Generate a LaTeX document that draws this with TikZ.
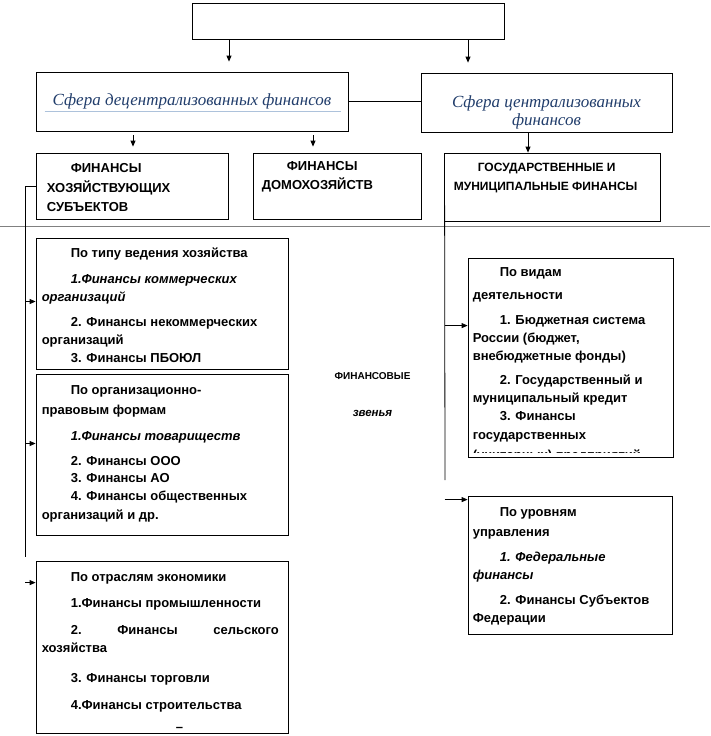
\documentclass[tikz,border=0pt]{standalone}
\usepackage{fontspec}
\setmainfont{Liberation Sans}
\newfontfamily\spherefont{Liberation Serif}
\usepackage{tikz}
\usetikzlibrary{arrows.meta}
\definecolor{sphblue}{rgb}{0.13,0.24,0.42}
\definecolor{sphline}{rgb}{0.68,0.76,0.86}
\definecolor{sepgray}{rgb}{0.50,0.50,0.50}

\begin{document}
\begin{tikzpicture}[x=1pt, y=-1pt,
  panel/.style={draw, line width=0.8pt, inner sep=0pt},
  txt/.style={
    anchor=north west, inner sep=0pt, align=left,
    font=\fontsize{13}{18}\selectfont\bfseries
  },
  caps/.style={
    anchor=north west, inner sep=0pt, align=left,
    font=\fontsize{13}{18}\selectfont\bfseries
  },
  sph/.style={
    align=center, text=sphblue,
    font=\spherefont\itshape\fontsize{17}{18}\selectfont
  },
  arr/.style={-{Triangle[length=6pt, width=5pt]}, line width=0.8pt},
  link/.style={line width=0.8pt},
]
\useasboundingbox (0,0) rectangle (710,736);

%% ---- Top level ----
\node[panel, minimum width=312, minimum height=36] (top) at (348,21) {};

%% ---- Spheres ----
\node[panel, sph, minimum width=312, minimum height=59] (decentr) at (192,101.5)
  {Сфера децентрализованных финансов};
\draw[sphline, line width=0.6pt] ([xshift=9pt, yshift=-9.5pt]decentr.west)
  -- ([xshift=-7pt, yshift=-9.5pt]decentr.east);
\node[panel, minimum width=251, minimum height=59] (centr) at (546.5,102.5) {};
\node[sph] (centrtxt) at ([yshift=-10pt]centr.center)
  {Сфера централизованных\\финансов};

%% ---- Finance groups ----
\node[panel, minimum width=192, minimum height=66] (hoz) at (132,186) {};
\node[caps] (hoztxt) at ([xshift=11pt, yshift=-7pt]hoz.north west)
  {\strut\hspace*{24pt}ФИНАНСЫ\\[2pt]ХОЗЯЙСТВУЮЩИХ\\[1pt]СУБЪЕКТОВ};
\node[panel, minimum width=168, minimum height=66] (dom) at (337,186) {};
\node[caps] (domtxt) at ([xshift=9pt, yshift=-5pt]dom.north west)
  {\strut\hspace*{25pt}ФИНАНСЫ\\[1pt]ДОМОХОЗЯЙСТВ};
\node[panel, minimum width=216, minimum height=68] (gos) at (552,187) {};
\node[caps, font=\fontsize{12}{18}\selectfont\bfseries] (gostxt)
  at ([xshift=10pt, yshift=-6pt]gos.north west)
  {\strut\hspace*{24pt}ГОСУДАРСТВЕННЫЕ И\\[1pt]МУНИЦИПАЛЬНЫЕ ФИНАНСЫ};

%% ---- Separator ----
\draw[sepgray, line width=0.7pt] (0,226) -- (710,226);

%% ---- Left column ----
\node[panel, minimum width=252, minimum height=131] (tip) at (162,303.5) {};
\node[txt] (tiptxt) at ([xshift=6pt, yshift=-7pt]tip.north west)
  {\strut\hspace*{29pt}По типу ведения хозяйства\\[8pt]
   \hspace*{29pt}\textit{1.Финансы коммерческих}\\
   \textit{организаций}\\[7pt]
   \hspace*{29pt}2. Финансы некоммерческих\\
   организаций\\
   \hspace*{29pt}3. Финансы ПБОЮЛ};

\node[panel, minimum width=252, minimum height=161] (org) at (162,454.5) {};
\node[txt] (orgtxt) at ([xshift=6pt, yshift=-8pt]org.north west)
  {\strut\hspace*{29pt}По организационно-\\[2pt]
   правовым формам\\[8pt]
   \hspace*{29pt}\textit{1.Финансы товариществ}\\[7pt]
   \hspace*{29pt}2. Финансы ООО\\[-1pt]
   \hspace*{29pt}3. Финансы АО\\
   \hspace*{29pt}4. Финансы общественных\\[1pt]
   организаций и др.};

\node[panel, minimum width=252, minimum height=172] (otr) at (162,647) {};
\node[txt] (otrtxt) at ([xshift=6pt, yshift=-8pt]otr.north west)
  {\strut\hspace*{29pt}По отраслям экономики\\[8pt]
   \hspace*{29pt}1.Финансы промышленности\\[9pt]
   \hspace*{29pt}\makebox[208pt][s]{2.\hfill Финансы\hfill сельского}\\
   хозяйства\\[12pt]
   \hspace*{29pt}3. Финансы торговли\\[9pt]
   \hspace*{29pt}4.Финансы строительства\\[4pt]
   \hspace*{134pt}–};

%% ---- Middle label ----
\node[font=\fontsize{10}{12}\selectfont\bfseries] (fin) at (372.5,376) {ФИНАНСОВЫЕ};
\node[font=\fontsize{11.5}{12}\selectfont\bfseries\itshape] (zv) at (372.5,413) {звенья};

%% ---- Right column ----
\node[panel, minimum width=205, minimum height=199] (vid) at (570.5,357.5) {};
\begin{scope}
  \clip ([xshift=1pt, yshift=-1pt]vid.north west) rectangle ([xshift=-1pt, yshift=5pt]vid.south east);
  \node[txt] (vidtxt) at ([xshift=5pt, yshift=-6pt]vid.north west)
    {\strut\hspace*{27pt}По видам\\[5pt]
     деятельности\\[7pt]
     \hspace*{27pt}1. Бюджетная система\\
     России (бюджет,\\
     внебюджетные фонды)\\[6pt]
     \hspace*{27pt}2. Государственный и\\
     муниципальный кредит\\
     \hspace*{27pt}3. Финансы\\[1pt]
     государственных\\[2pt]
     (унитарных) предприятий};
\end{scope}

\node[panel, minimum width=204, minimum height=138] (urov) at (570,565) {};
\node[txt] (urovtxt) at ([xshift=5pt, yshift=-8pt]urov.north west)
  {\strut\hspace*{27pt}По уровням\\[2pt]
   управления\\[7pt]
   \hspace*{27pt}\textit{1. Федеральные}\\
   \textit{финансы}\\[7pt]
   \hspace*{27pt}2. Финансы Субъектов\\
   Федерации};

%% ---- Arrows between levels ----
\coordinate (xa) at (229,0);
\coordinate (xb) at (468,0);
\coordinate (xc) at (133,0);
\coordinate (xd) at (313,0);
\coordinate (xe) at (528,0);
\draw[arr, shorten >=10pt] (top.south -| xa) -- (decentr.north -| xa);
\draw[arr, shorten >=10pt] (top.south -| xb) -- (centr.north -| xb);
\draw[arr, shorten <=4pt, shorten >=6pt] (decentr.south -| xc) -- (hoz.north -| xc);
\draw[arr, shorten <=4pt, shorten >=6pt] (decentr.south -| xd) -- (dom.north -| xd);
\draw[arr] (centr.south -| xe) -- (gos.north -| xe);
\draw[link] (decentr.east) -- (decentr.east -| centr.west);

%% ---- Left bus ----
\coordinate (lb) at (25,557);
\coordinate (ptip) at ([yshift=2pt]tip.west);
\coordinate (porg) at ([yshift=11pt]org.west);
\coordinate (potr) at ([yshift=-22pt]otr.north west);
\draw[link] (hoz.west) -| (lb);
\draw[arr] (ptip -| lb) -- (ptip);
\draw[arr] (porg -| lb) -- (porg);
\draw[arr] (potr -| lb) -- (potr);

%% ---- Right bus ----
\coordinate (rs) at ([xshift=1pt, yshift=16pt]gos.south west);
\coordinate (rb) at (445,480);
\coordinate (pvid) at ([yshift=-68pt]vid.north west);
\coordinate (purov) at ([yshift=-4pt]urov.north west);
\draw[link] (rs) -- (rb);
\draw[arr] (pvid -| rs) -- (pvid);
\draw[arr] (purov -| rs) -- (purov);

\end{tikzpicture}
\end{document}
